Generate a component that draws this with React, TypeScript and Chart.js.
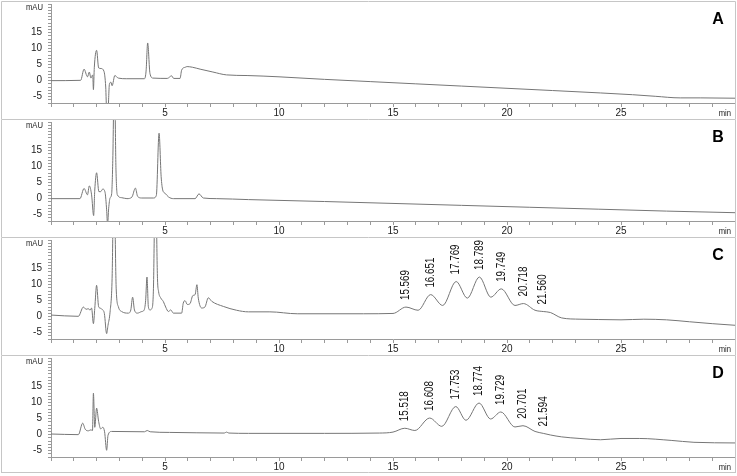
import React, { useEffect, useRef } from 'react';
import { Chart, registerables } from 'chart.js';
Chart.register(...registerables);

const FONT = "'Liberation Sans', Arial, sans-serif";

// Panel A
const timeA = [0, 1.3, 1.45, 1.6, 1.68, 1.75, 1.83, 1.86, 1.9, 2.0, 2.09, 2.19, 2.32, 2.4, 2.44, 2.5, 2.56, 2.63, 2.68, 2.8, 2.95, 3.3, 4.1, 4.17, 4.24, 4.34, 4.47, 5.1, 5.29, 5.38, 5.66, 5.73, 5.89, 5.97, 6.2, 6.54, 7.1, 7.7, 8.6, 10, 12, 14, 16, 18, 20, 22, 24.1, 25.5, 26.5, 27.6, 28.5, 30];
const valA = [0, 0.1, 3.6, 1.2, 2.7, 0.8, 1.8, -2.8, 4.2, 9.5, 4.0, 3.8, 3.0, -2.0, -9, -9, -1.2, -0.5, -1.6, 1.6, 0.8, 0.6, 0.6, 3.0, 11.8, 2.3, 0.8, 0.7, 1.5, 0.7, 0.7, 3.3, 4.2, 4.4, 4.2, 3.6, 2.7, 1.8, 1.6, 1.2, 0.4, -0.3, -1.0, -1.7, -2.4, -3.1, -3.85, -4.4, -4.9, -5.4, -5.4, -5.5];

// Panel B
const timeB = [0, 1.27, 1.45, 1.6, 1.68, 1.78, 1.87, 1.92, 2.0, 2.1, 2.18, 2.27, 2.37, 2.44, 2.48, 2.53, 2.59, 2.66, 2.71, 2.78, 2.85, 2.91, 3.1, 3.33, 3.55, 3.7, 3.8, 3.98, 4.5, 4.62, 4.74, 4.83, 4.9, 5.0, 5.16, 5.37, 6.32, 6.49, 6.68, 7.27, 8.66, 12, 15, 18, 21, 24, 27, 30];
const valB = [0, 0, 3.2, 1.2, 4.0, 1.2, -5.3, 2.7, 8.1, 2.2, 2.2, 3.0, 2.0, -3.5, -8, -3.0, 0.2, 1.5, 12, 40, 9, 1.2, 0.3, 0, 0.5, 3.3, 0.7, 0.2, 0.2, 1.0, 20.5, 7, 2.7, 1.7, 0.5, 0, 0, 1.5, 0.2, 0, -0.3, -0.9, -1.5, -2.1, -2.7, -3.3, -3.9, -4.4];

// Panel C
const timeC = [0, 1.2, 1.42, 1.54, 1.64, 1.71, 1.78, 1.86, 1.92, 2.0, 2.09, 2.18, 2.25, 2.34, 2.44, 2.5, 2.59, 2.68, 2.76, 2.86, 2.96, 3.1, 3.39, 3.5, 3.58, 3.66, 3.79, 3.98, 4.08, 4.15, 4.21, 4.27, 4.34, 4.42, 4.49, 4.58, 4.67, 4.72, 4.81, 4.93, 5.03, 5.15, 5.25, 5.37, 5.73, 5.8, 5.88, 5.98, 6.1, 6.22, 6.32, 6.4, 6.46, 6.61, 6.75, 6.9, 7.05, 7.56, 8.14, 8.66, 9.6, 10.8, 13.7, 15.0, 15.569, 16.1, 16.651, 17.18, 17.769, 18.26, 18.789, 19.29, 19.749, 20.35, 20.718, 21.23, 21.59, 21.9, 22.4, 23.2, 24, 25, 26, 27, 28, 29, 30];
const valC = [0.5, 0.1, 3.0, 2.3, 2.5, 2.0, 2.7, -2.2, 2.6, 9.8, 3.1, 2.6, 2.2, 1.0, -5.3, -2.7, 1.4, 12, 45, 8.7, 3.0, 1.6, 1.1, 2.1, 6.1, 2.1, 1.1, 1.6, 2.0, 5.0, 12.4, 3.1, 2.1, 2.5, 8, 45, 12, 7.8, 5.9, 4.7, 3.0, 1.6, 2.1, 1.1, 1.1, 4.2, 5.0, 3.8, 4.1, 6.6, 6.9, 10.0, 5.8, 2.7, 3.0, 5.9, 4.8, 3.2, 2.0, 1.5, 1.5, 0.9, 0.9, 1.0, 3.0, 2.0, 6.9, 3.5, 11.0, 5.8, 12.4, 6.1, 8.7, 3.5, 4.1, 2.0, 1.6, 1.3, -0.4, -0.8, -0.9, -1.0, -0.8, -1.0, -1.6, -2.2, -2.7];

// Panel D
const timeD = [0, 1.2, 1.39, 1.5, 1.64, 1.75, 1.82, 1.86, 1.92, 2.0, 2.09, 2.18, 2.27, 2.35, 2.44, 2.5, 2.66, 4.1, 4.22, 4.35, 5.2, 7.6, 7.7, 7.8, 8.66, 10, 12, 14.4, 15.0, 15.518, 15.96, 16.608, 17.14, 17.753, 18.2, 18.774, 19.28, 19.729, 20.35, 20.701, 21.23, 21.59, 21.9, 22.4, 23.2, 24.1, 25, 25.8, 27.2, 28.2, 30];
const valD = [0.2, 0, 3.6, 1.7, 1.2, 1.5, 1.3, 13, 2.3, 8.3, 4.1, 1.8, 2.3, 0.9, -4.9, -0.2, 1.0, 0.9, 1.3, 0.9, 0.7, 0.5, 0.8, 0.5, 0.4, 0.4, 0.4, 0.5, 0.8, 2.0, 1.3, 5.2, 2.6, 8.8, 4.5, 9.9, 4.9, 7.1, 2.4, 2.8, 1.0, 0.4, -0.1, -0.7, -1.2, -1.6, -1.2, -1.2, -1.8, -2.4, -2.6];

// Peak annotations
const peakTimesC = [15.569, 16.651, 17.769, 18.789, 19.749, 20.718, 21.56];
const peakLabelsC = ['15.569', '16.651', '17.769', '18.789', '19.749', '20.718', '21.560'];
const peakTimesD = [15.518, 16.608, 17.753, 18.774, 19.729, 20.701, 21.594];
const peakLabelsD = ['15.518', '16.608', '17.753', '18.774', '19.729', '20.701', '21.594'];

// Axes
const xLabelTicks = [5, 10, 15, 20, 25];
const yLabelTicks = [-5, 0, 5, 10, 15];
const xUnit = 'min';
const yUnit = 'mAU';
const panelLetters = ['A', 'B', 'C', 'D'];

const PANEL_W = 735;
const PANEL_H = 118;
const panelTops = [1, 119, 237, 355];

function valueAt(times: number[], vals: number[], t: number) {
  for (let i = 0; i < times.length - 1; i++) {
    if (t >= times[i] && t <= times[i + 1]) {
      const f = (t - times[i]) / (times[i + 1] - times[i]);
      return vals[i] + f * (vals[i + 1] - vals[i]);
    }
  }
  return vals[vals.length - 1];
}

type PanelProps = {
  times: number[];
  vals: number[];
  letter: string;
  peakTimes?: number[];
  peakLabels?: string[];
  top: number;
  last?: boolean;
};

function Panel({ times, vals, letter, peakTimes, peakLabels, top, last }: PanelProps) {
  const ref = useRef<HTMLCanvasElement | null>(null);
  useEffect(() => {
    if (!ref.current) return;
    const n = Math.min(times.length, vals.length);
    const data = [];
    for (let i = 0; i < n; i++) data.push({ x: times[i], y: vals[i] });

    const decor = {
      id: 'decor',
      afterDraw(chart: any) {
        const ctx = chart.ctx;
        const xs = chart.scales.x;
        const ys = chart.scales.y;
        const ca = chart.chartArea;
        ctx.save();
        // panel frame
        ctx.strokeStyle = '#c6c6c6';
        ctx.lineWidth = 1;
        ctx.beginPath();
        ctx.moveTo(0.5, chart.height);
        ctx.lineTo(0.5, 0.5);
        ctx.lineTo(chart.width - 0.5, 0.5);
        ctx.lineTo(chart.width - 0.5, chart.height);
        if (last) {
          ctx.moveTo(0.5, chart.height - 0.5);
          ctx.lineTo(chart.width - 0.5, chart.height - 0.5);
        }
        ctx.stroke();
        // panel letter
        ctx.fillStyle = '#000';
        ctx.font = `bold 16px ${FONT}`;
        ctx.textAlign = 'center';
        ctx.textBaseline = 'middle';
        ctx.fillText(letter, 717, 19);
        // units
        ctx.fillStyle = '#222';
        ctx.font = `9px ${FONT}`;
        ctx.textAlign = 'right';
        ctx.save();
        ctx.translate(ca.left - 8, ca.top + 4);
        ctx.scale(0.85, 1);
        ctx.fillText(yUnit, 0, 0);
        ctx.restore();
        ctx.save();
        ctx.translate(ca.right - 4, ca.bottom + 11);
        ctx.scale(0.85, 1);
        ctx.fillText(xUnit, 0, 0);
        ctx.restore();
        // peak labels
        if (peakTimes && peakLabels) {
          ctx.font = `12px ${FONT}`;
          ctx.fillStyle = '#111';
          ctx.textAlign = 'left';
          ctx.textBaseline = 'middle';
          peakTimes.forEach((t, i) => {
            const px = xs.getPixelForValue(t);
            const py = ys.getPixelForValue(valueAt(times, vals, t)) - 7;
            ctx.save();
            ctx.translate(px, py);
            ctx.rotate(-Math.PI / 2);
            ctx.scale(0.82, 1);
            ctx.fillText(peakLabels[i], 0, 0);
            ctx.restore();
          });
        }
        ctx.restore();
      },
    };

    const chart = new Chart(ref.current, {
      type: 'line',
      data: {
        datasets: [
          {
            data,
            borderColor: '#767676',
            borderWidth: 1,
            pointRadius: 0,
            cubicInterpolationMode: 'monotone',
            fill: false,
            clip: { left: 0, top: 2, right: 0, bottom: 0 } as any,
          },
        ],
      },
      options: {
        responsive: false,
        animation: false,
        events: [],
        layout: { padding: { top: 3, right: 1, left: 0, bottom: 0 } },
        plugins: { legend: { display: false }, tooltip: { enabled: false } },
        scales: {
          x: {
            type: 'linear',
            min: 0,
            max: 30,
            border: { color: '#9a9a9a', width: 1 },
            grid: { drawOnChartArea: false, drawTicks: true, tickLength: 4, tickColor: '#9a9a9a' },
            ticks: {
              stepSize: 1,
              autoSkip: false,
              maxRotation: 0,
              padding: 0,
              color: '#222',
              font: { family: FONT, size: 10 },
              callback: (v: any) => (xLabelTicks.includes(Number(v)) ? String(v) : ''),
            },
            afterFit: (s: any) => {
              s.height = 16;
              s.paddingLeft = 0;
              s.paddingRight = 0;
            },
          },
          y: {
            type: 'linear',
            min: -7,
            max: 24,
            border: { color: '#9a9a9a', width: 1 },
            grid: { drawOnChartArea: false, drawTicks: true, tickLength: 3, tickColor: '#9a9a9a' },
            ticks: {
              stepSize: 1,
              autoSkip: false,
              padding: 6,
              color: '#222',
              font: { family: FONT, size: 10 },
              callback: (v: any) => (yLabelTicks.includes(Number(v)) ? String(v) : ''),
            },
            afterFit: (s: any) => {
              s.width = 50;
              s.paddingTop = 0;
              s.paddingBottom = 0;
            },
          },
        },
      },
      plugins: [decor],
    } as any);
    return () => chart.destroy();
  }, []);
  return (
    <canvas
      ref={ref}
      width={PANEL_W}
      height={PANEL_H}
      style={{ position: 'absolute', left: 1, top, width: PANEL_W, height: PANEL_H }}
    />
  );
}

export default function App() {
  return (
    <div style={{ position: 'absolute', left: 0, top: 0, width: 737, height: 476, background: '#fff' }}>
      <Panel times={timeA} vals={valA} letter={panelLetters[0]} top={panelTops[0]} />
      <Panel times={timeB} vals={valB} letter={panelLetters[1]} top={panelTops[1]} />
      <Panel times={timeC} vals={valC} letter={panelLetters[2]} top={panelTops[2]} peakTimes={peakTimesC} peakLabels={peakLabelsC} />
      <Panel times={timeD} vals={valD} letter={panelLetters[3]} top={panelTops[3]} peakTimes={peakTimesD} peakLabels={peakLabelsD} last />
    </div>
  );
}
